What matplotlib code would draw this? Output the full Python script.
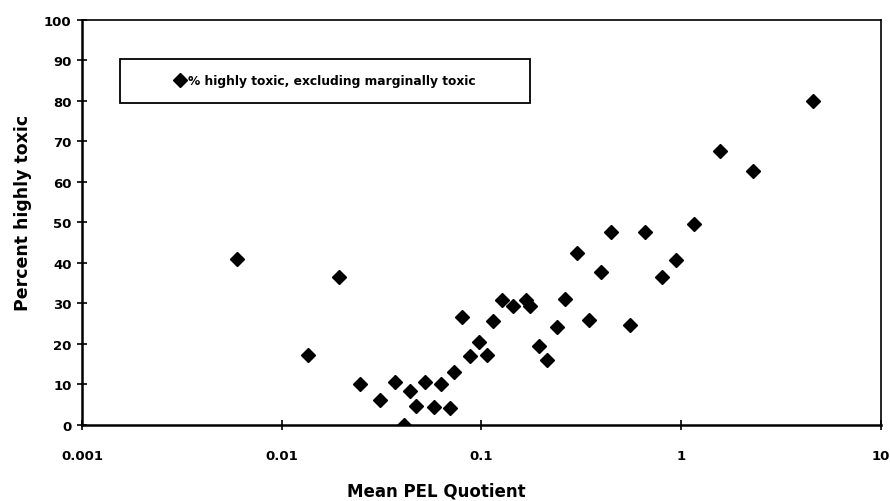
import numpy as np
import matplotlib
matplotlib.use('Agg')
import matplotlib.pyplot as plt
from matplotlib.patches import Rectangle
from matplotlib.ticker import FixedLocator, FixedFormatter, NullLocator

plt.rcParams['font.family'] = ['DejaVu Sans']

# Data (x on a log scale)
pel_quotient = [0.0060, 0.0136, 0.0193, 0.0247, 0.0312, 0.0367, 0.0407, 0.0441,
                0.0472, 0.0524, 0.0577, 0.0630, 0.0693, 0.0726, 0.080, 0.088,
                0.0977, 0.106, 0.114, 0.127, 0.144, 0.168, 0.175, 0.194, 0.213,
                0.238, 0.261, 0.302, 0.345, 0.395, 0.447, 0.552, 0.658, 0.805,
                0.938, 1.16, 1.57, 2.28, 4.58]
pct_highly_toxic = [41.0, 17.3, 36.4, 10.0, 6.2, 10.7, 0.0, 8.3,
                    4.8, 10.7, 4.4, 10.0, 4.2, 13.0, 26.6, 16.9,
                    20.4, 17.3, 25.6, 30.8, 29.4, 30.9, 29.4, 19.6, 16.1,
                    24.3, 31.2, 42.4, 25.9, 37.8, 47.7, 24.7, 47.7, 36.6,
                    40.7, 49.7, 67.5, 62.7, 80.0]

x_ticks = [0.001, 0.01, 0.1, 1, 10]
x_tick_labels = ['0.001', '0.01', '0.1', '1', '10']
y_ticks = [0, 10, 20, 30, 40, 50, 60, 70, 80, 90, 100]

fig = plt.figure(figsize=(8.9, 5.02), dpi=100)
ax = fig.add_axes([0.0921, 0.1514, 0.8978, 0.8074])

ax.plot(pel_quotient, pct_highly_toxic, linestyle='none', marker='D',
        markersize=7, color='black',
        label='% highly toxic, excluding marginally toxic')

ax.set_xscale('log')
ax.set_xlim(0.001, 10)
ax.set_ylim(0, 100)
ax.xaxis.set_major_locator(FixedLocator(x_ticks))
ax.xaxis.set_major_formatter(FixedFormatter(x_tick_labels))
ax.xaxis.set_minor_locator(NullLocator())
ax.set_yticks(y_ticks)

ax.tick_params(direction='inout', length=7, width=1.2, labelsize=9.5)
ax.tick_params(axis='y', pad=4)
ax.tick_params(axis='x', pad=14)
for lab in ax.get_xticklabels() + ax.get_yticklabels():
    lab.set_fontweight('bold')

for side in ['left', 'bottom']:
    ax.spines[side].set_linewidth(1.8)
for side in ['top', 'right']:
    ax.spines[side].set_linewidth(1.2)

fig.text(0.026, 0.576, 'Percent highly toxic', rotation=90, ha='center',
         va='center', fontsize=12.5, fontweight='bold')
fig.text(0.49, 0.02, 'Mean PEL Quotient', ha='center', va='center',
         fontsize=12, fontweight='bold')

# legend box: drawn frame, legend entry centred inside
box = Rectangle((0.0474, 0.7950), 0.5130, 0.1085, transform=ax.transAxes,
                facecolor='white', edgecolor='black', linewidth=1.3, zorder=4)
ax.add_patch(box)
leg = ax.legend(loc='center', bbox_to_anchor=(0.3039, 0.8493),
                frameon=False, handletextpad=0.2, handlelength=1.0,
                borderpad=0, prop={'size': 8.8, 'weight': 'bold'})
leg.set_zorder(5)

fig.savefig('out.png', dpi=100)
